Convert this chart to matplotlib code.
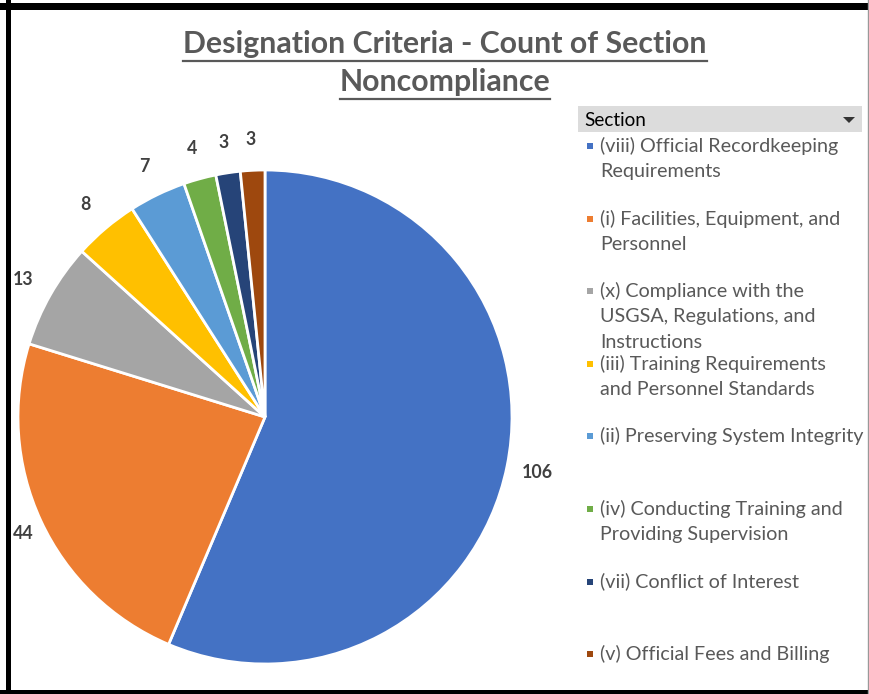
import matplotlib
matplotlib.use("Agg")
import matplotlib.pyplot as plt
from matplotlib.patches import Rectangle, Polygon
from matplotlib.lines import Line2D

categories = [
    "(viii) Official Recordkeeping\nRequirements",
    "(i) Facilities, Equipment, and\nPersonnel",
    "(x) Compliance with the\nUSGSA, Regulations, and\nInstructions",
    "(iii) Training Requirements\nand Personnel Standards",
    "(ii) Preserving System Integrity",
    "(iv) Conducting Training and\nProviding Supervision",
    "(vii) Conflict of Interest",
    "(v) Official Fees and Billing",
]
values = [106, 44, 13, 8, 7, 4, 3, 3]
colors = ["#4472C4", "#ED7D31", "#A5A5A5", "#FFC000", "#5B9BD5", "#70AD47", "#264478", "#9E480E"]
title_lines = ["Designation Criteria - Count of Section", "Noncompliance"]
legend_title = "Section"

W, H = 870, 694
fig = plt.figure(figsize=(W / 100, H / 100), dpi=100)
FONT = ["Lato", "DejaVu Sans"]

def fx(px):
    return px / W

def fy(py):
    return 1 - py / H

# Pie axes: center (265, 417), radius 247 px
cx, cy, r = 265, 417, 247
ax = fig.add_axes([fx(cx - r), fy(cy + r), 2 * r / W, 2 * r / H])
wedges, texts = ax.pie(
    values, colors=colors, startangle=90, counterclock=False,
    labels=[str(v) for v in values], labeldistance=1.125,
    wedgeprops=dict(edgecolor="white", linewidth=2),
    textprops=dict(fontsize=12.8, fontweight="bold", color="#404040", family=FONT),
)
ax.set_xlim(-1, 1)
ax.set_ylim(-1, 1)
ax.set_aspect("auto")

fig.canvas.draw()
renderer = fig.canvas.get_renderer()

# center labels, keep them inside the left frame
for t in texts:
    t.set_ha("center")
    t.set_va("center")
fig.canvas.draw()
min_left = 13
for t in texts:
    bb = t.get_window_extent(renderer=renderer)
    if bb.x0 < min_left:
        x, y = t.get_position()
        shift = (min_left - bb.x0) / r  # data units (radius = 1 -> r px)
        t.set_position((x + shift, y))

# Title with underline
title_y = [44, 82]
for line, ypx in zip(title_lines, title_y):
    t = fig.text(fx(445), fy(ypx), line, ha="center", va="center", fontsize=21.8,
                 fontweight="bold", color="#595959", family=FONT)
    bb = t.get_window_extent(renderer=renderer)
    uy = fy(ypx + 17)
    fig.add_artist(Line2D([bb.x0 / W, bb.x1 / W], [uy, uy], color="#595959", lw=1.6))

# Legend header
fig.add_artist(Rectangle((fx(578), fy(132)), fx(862) - fx(578), fy(106) - fy(132),
                         facecolor="#DCDCDC", edgecolor="none"))
fig.text(fx(584), fy(120), legend_title, ha="left", va="center", fontsize=13.6,
         color="#000000", family=FONT)
fig.add_artist(Polygon([[fx(843), fy(117)], [fx(855), fy(117)], [fx(849), fy(123)]],
                       closed=True, facecolor="#333333", edgecolor="none"))

# Legend entries
for i, (lab, col) in enumerate(zip(categories, colors)):
    ypx = 146 + i * 72.6
    fig.add_artist(Rectangle((fx(587), fy(ypx + 3)), 6 / W, 6 / H,
                             facecolor=col, edgecolor="none"))
    for k, part in enumerate(lab.split("\n")):
        fig.text(fx(600), fy(ypx + k * 25.5), part, ha="left", va="center",
                 fontsize=14.2, color="#595959", family=FONT)

# Border
fig.add_artist(Rectangle((0, fy(10)), 1, 7 / H, facecolor="black", edgecolor="none"))
fig.add_artist(Rectangle((fx(6), 0), 5 / W, 1, facecolor="black", edgecolor="none"))
fig.add_artist(Rectangle((0, 0), 1, 4 / H, facecolor="black", edgecolor="none"))
fig.add_artist(Line2D([fx(868), fx(868)], [0, 1], color="#999999", lw=1))

fig.savefig("out.png", dpi=100, facecolor="white")
